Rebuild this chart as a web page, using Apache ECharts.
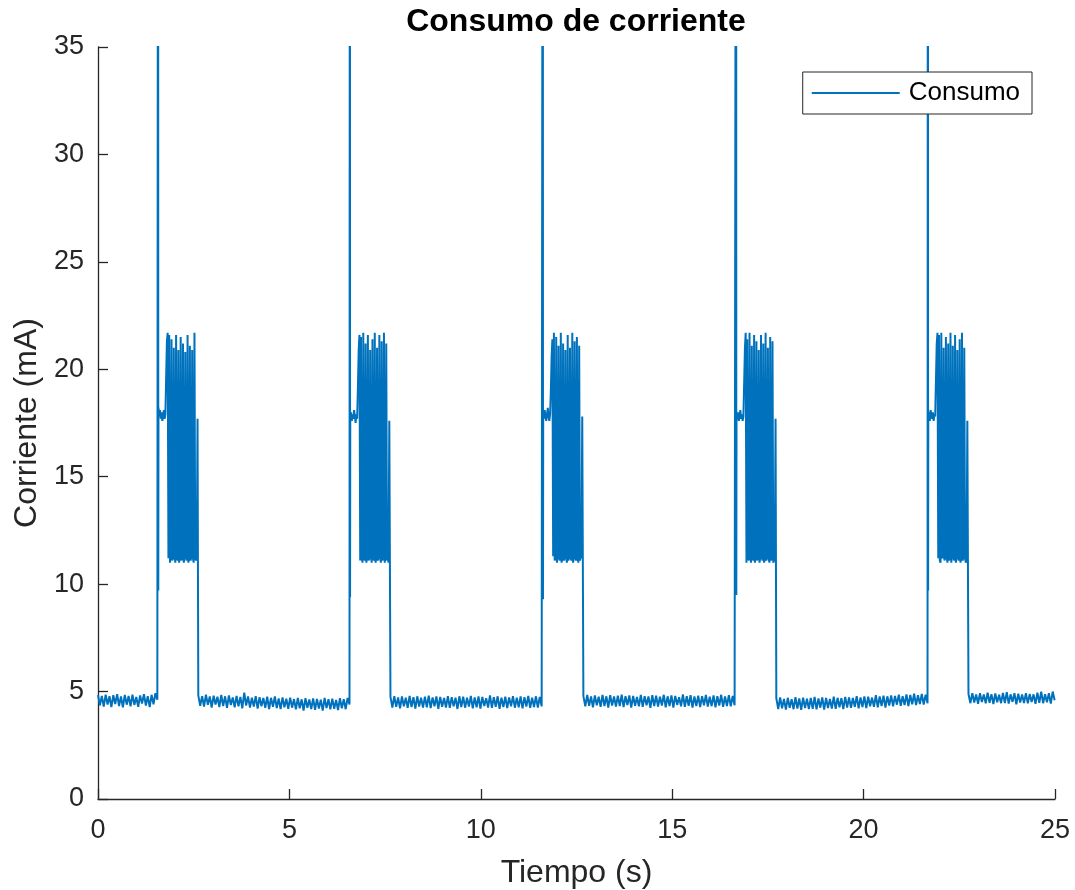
<!DOCTYPE html>
<html>
<head>
<meta charset="utf-8">
<script src="https://cdn.jsdelivr.net/npm/echarts@6/dist/echarts.min.js"></script>
<style>html,body{margin:0;padding:0;background:#fff}#c{width:1075px;height:890px}</style>
</head>
<body>
<div id="c"></div>
<script>
const titleText = 'Consumo de corriente';
const xName = 'Tiempo (s)';
const yName = 'Corriente (mA)';
const seriesName = 'Consumo';
const xTicks = [0, 5, 10, 15, 20, 25];
const yTicks = [0, 5, 10, 15, 20, 25, 30, 35];

// sample spacing (s)
const dtBase = 0.05;
const dtBurst = 0.02;

// start time of each burst (spike) and of each idle segment
const spikeTimes = [1.57, 6.58, 11.62, 16.67, 21.68];
const baseStarts = [0, 2.62, 7.64, 12.68, 17.72, 22.74];
const spikePeak = [60, 60, 60, 60, 60];
const spikeDip = [9.7, 9.4, 9.3, 9.5, 9.7];

// idle current segments (mA)
const base1 = [4.84,4.36,4.80,4.30,4.86,4.40,4.78,4.28,4.83,4.42,4.88,4.33,4.77,4.27,4.84,4.39,4.80,4.31,4.86,4.38,4.75,4.29,4.82,4.44,4.88,4.35,4.79,4.28,4.85,4.41,4.92,4.62];
const base2 = [4.82,4.34,4.79,4.30,4.86,4.38,4.77,4.26,4.81,4.40,
4.76,4.28,4.84,4.33,4.78,4.24,4.82,4.37,4.73,4.27,
4.80,4.31,4.75,4.22,4.95,4.35,4.77,4.25,4.72,4.30,
4.79,4.21,4.74,4.32,4.70,4.24,4.76,4.19,4.71,4.29,
4.77,4.23,4.68,4.18,4.73,4.27,4.67,4.20,4.72,4.25,
4.65,4.17,4.70,4.22,4.64,4.12,4.69,4.24,4.63,4.19,
4.68,4.15,4.66,4.21,4.62,4.11,4.70,4.23,4.64,4.17,
4.67,4.20,4.61,4.14,4.69,4.22,4.65,4.18,4.71,4.40];
const base3 = [4.75,4.26,4.79,4.29,4.73,4.22,4.77,4.31,4.71,4.24,
4.80,4.28,4.74,4.21,4.78,4.30,4.72,4.25,4.76,4.27,
4.81,4.23,4.73,4.32,4.77,4.20,4.75,4.29,4.70,4.26,
4.79,4.24,4.74,4.31,4.72,4.19,4.78,4.28,4.76,4.25,
4.71,4.30,4.80,4.22,4.73,4.27,4.77,4.21,4.75,4.33,
4.69,4.26,4.82,4.24,4.74,4.29,4.78,4.20,4.72,4.28,
4.76,4.23,4.73,4.31,4.79,4.25,4.71,4.27,4.77,4.22,
4.74,4.30,4.80,4.24,4.72,4.28,4.78,4.26,4.75,4.31];
const base4 = [4.79,4.31,4.84,4.34,4.77,4.27,4.82,4.36,4.76,4.29,
4.85,4.33,4.78,4.26,4.83,4.35,4.77,4.30,4.81,4.32,
4.86,4.28,4.78,4.37,4.82,4.25,4.80,4.34,4.75,4.31,
4.84,4.29,4.79,4.36,4.77,4.24,4.83,4.33,4.81,4.30,
4.76,4.35,4.85,4.27,4.78,4.32,4.82,4.26,4.80,4.38,
4.74,4.31,4.87,4.29,4.79,4.34,4.83,4.25,4.77,4.33,
4.81,4.28,4.78,4.36,4.84,4.30,4.76,4.32,4.82,4.27,
4.79,4.35,4.85,4.29,4.77,4.33,4.83,4.31,4.80,4.36];
const base5 = [4.69,4.19,4.73,4.22,4.66,4.16,4.71,4.24,4.65,4.18,
4.74,4.21,4.68,4.15,4.72,4.23,4.67,4.19,4.70,4.20,
4.75,4.17,4.68,4.25,4.73,4.16,4.70,4.23,4.66,4.21,
4.76,4.20,4.71,4.27,4.69,4.18,4.75,4.26,4.73,4.24,
4.70,4.29,4.79,4.22,4.73,4.28,4.77,4.23,4.76,4.32,
4.72,4.29,4.83,4.27,4.77,4.33,4.81,4.26,4.78,4.35,
4.82,4.31,4.80,4.39,4.86,4.34,4.79,4.37,4.87,4.33,
4.84,4.41,4.90,4.37,4.83,4.42,4.89,4.40,4.86,4.46];
const base6 = [4.89,4.46,4.93,4.49,4.87,4.43,4.92,4.51,4.86,4.45,
4.95,4.48,4.88,4.42,4.91,4.50,4.85,4.46,4.94,4.47,
4.97,4.44,4.87,4.52,4.92,4.41,4.90,4.49,4.86,4.47,
4.93,4.45,4.89,4.51,4.87,4.43,4.95,4.48,4.99,4.46,
4.88,4.50,4.92,4.44,5.00,4.60];

// burst plateau (~18 mA) values
const plat1 = [18.2,17.9,18.1,17.7,18.0,17.6,17.8,18.1,17.7,17.9];
const plat2 = [17.8,18.0,17.6,17.9,17.7,18.1,17.8,17.5,17.9,17.7];
const plat3 = [18.0,17.7,18.1,17.8,17.6,17.9,18.2,17.8,17.6,17.9];
const plat4 = [17.9,17.7,18.0,17.6,17.8,18.1,17.7,17.9,17.6,17.8];
const plat5 = [18.0,17.8,17.6,18.1,17.9,17.7,18.0,17.6,17.9,17.8];

// burst oscillation (11 <-> 21.7 mA) values
const osc1 = [19.6,21.3,21.7,11.2,21.6,11.0,11.3,21.4,11.1,11.2,21.0,11.3,11.0,21.6,11.2,11.1,20.9,11.0,11.3,21.5,11.1,11.2,21.2,11.0,11.2,20.8,11.3,11.1,21.6,11.0,11.2,21.1,11.1,11.3,20.9,11.2,11.0,21.7,11.2,11.1,11.3,17.7];
const osc2 = [19.2,20.9,21.6,11.1,21.5,11.3,11.0,21.7,11.2,11.1,21.2,11.0,11.3,21.6,11.1,11.2,20.9,11.3,11.0,21.4,11.2,11.1,21.7,11.0,11.2,21.0,11.1,11.3,21.6,11.2,11.0,21.3,11.1,11.2,21.7,11.0,11.3,21.2,11.1,11.2,11.0,17.6];
const osc3 = [19.0,20.6,21.4,11.3,21.7,11.1,11.2,21.5,11.0,11.3,21.1,11.2,11.1,21.7,11.0,11.2,21.2,11.1,11.3,20.9,11.2,11.0,21.6,11.1,11.3,21.0,11.2,11.1,21.7,11.0,11.2,21.3,11.3,11.1,21.5,11.2,11.0,21.1,11.1,11.3,11.2,17.8];
const osc4 = [19.4,21.0,21.7,11.0,21.4,11.2,11.1,21.7,11.3,11.0,21.1,11.2,11.1,21.6,11.0,11.3,21.3,11.1,11.2,20.9,11.0,11.2,21.6,11.3,11.1,21.2,11.0,11.2,21.7,11.1,11.3,21.0,11.2,11.0,21.5,11.1,11.2,21.3,11.0,11.1,11.2,17.7];
const osc5 = [19.5,21.2,21.7,11.2,21.6,11.1,11.0,21.7,11.2,11.3,21.0,11.1,11.2,21.5,11.3,11.0,21.2,11.1,11.2,21.7,11.0,11.3,21.1,11.2,11.1,21.6,11.0,11.2,20.9,11.3,11.1,21.4,11.0,11.2,21.7,11.1,11.3,21.0,11.2,11.0,11.1,17.6];

const bases = [base1, base2, base3, base4, base5, base6];
const plats = [plat1, plat2, plat3, plat4, plat5];
const oscs = [osc1, osc2, osc3, osc4, osc5];

const r = v => Math.round(v * 1000) / 1000;
const data = [];
for (let k = 0; k < bases.length; k++) {
  bases[k].forEach((v, i) => data.push([r(baseStarts[k] + i * dtBase), v]));
  if (k < spikeTimes.length) {
    const t0 = spikeTimes[k];
    data.push([r(t0), spikePeak[k]]);
    data.push([r(t0 + 0.005), spikeDip[k]]);
    plats[k].forEach((v, i) => data.push([r(t0 + 0.01 + i * dtBurst), v]));
    const tOsc = t0 + 0.01 + plats[k].length * dtBurst;
    oscs[k].forEach((v, i) => data.push([r(tOsc + i * dtBurst), v]));
  }
}

const FONT = '"Liberation Sans", Arial, Helvetica, sans-serif';
const AX = '#262626';
const chart = echarts.init(document.getElementById('c'), null, {renderer: 'canvas'});
chart.setOption({
  animation: false,
  backgroundColor: '#ffffff',
  title: {
    text: titleText, left: 576, textAlign: 'center', top: 6, padding: 0,
    textStyle: {fontFamily: FONT, fontSize: 32, fontWeight: 'bold', color: '#000'}
  },
  legend: {
    data: [{name: seriesName, icon: 'rect'}],
    right: 43, top: 72,
    itemWidth: 88, itemHeight: 2, itemGap: 0,
    padding: [8, 12, 8, 9],
    borderColor: AX, borderWidth: 1, borderRadius: 0,
    backgroundColor: '#ffffff',
    textStyle: {fontFamily: FONT, fontSize: 26, color: '#000', padding: [0, 0, 0, 4], lineHeight: 26}
  },
  grid: {left: 98, right: 20, top: 47, bottom: 91, containLabel: false, outerBoundsMode: 'none'},
  xAxis: {
    type: 'value', min: xTicks[0], max: xTicks[xTicks.length - 1], interval: 5,
    name: xName, nameLocation: 'middle', nameGap: 58,
    nameTextStyle: {fontFamily: FONT, fontSize: 32, color: AX},
    axisLine: {show: true, onZero: false, lineStyle: {color: AX, width: 1.3}},
    axisTick: {show: true, inside: true, length: 10, lineStyle: {color: AX, width: 1.3}},
    axisLabel: {fontFamily: FONT, fontSize: 27, color: AX, margin: 18},
    splitLine: {show: false}
  },
  yAxis: {
    type: 'value', min: yTicks[0], max: yTicks[yTicks.length - 1], interval: 5,
    name: yName, nameLocation: 'middle', nameGap: 52,
    nameTextStyle: {fontFamily: FONT, fontSize: 32, color: AX},
    axisLine: {show: true, onZero: false, lineStyle: {color: AX, width: 1.3}},
    axisTick: {show: true, inside: true, length: 10, lineStyle: {color: AX, width: 1.3}},
    axisLabel: {fontFamily: FONT, fontSize: 27, color: AX, margin: 14},
    splitLine: {show: false}
  },
  series: [{
    name: seriesName, type: 'line', data: data,
    symbol: 'none', showSymbol: false, clip: true, sampling: null,
    lineStyle: {color: '#0072BD', width: 2},
    itemStyle: {color: '#0072BD'}
  }]
});
</script>
</body>
</html>
